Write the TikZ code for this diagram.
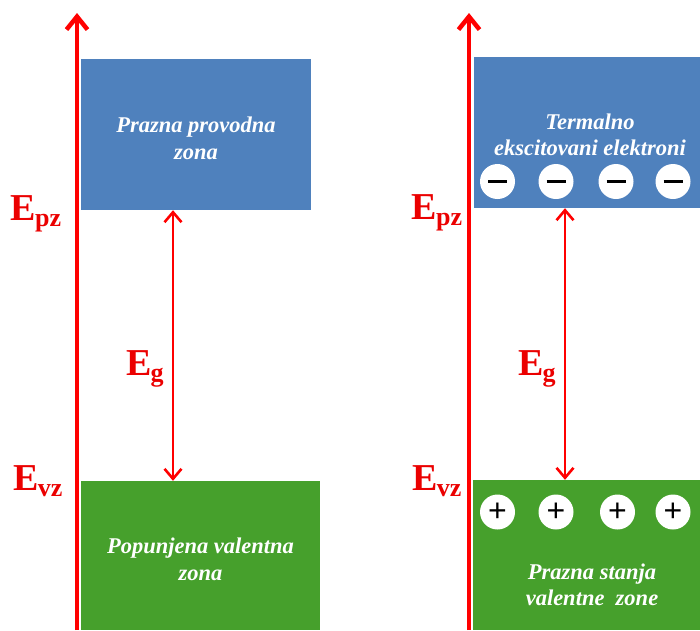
\documentclass[tikz,border=0pt]{standalone}
\usepackage{fontspec}
\setmainfont{Liberation Serif}
\newfontfamily\signfont{Liberation Sans}
\definecolor{b_blue}{HTML}{4F81BD}
\definecolor{b_green}{HTML}{46A02C}
\definecolor{b_red}{HTML}{FF0000}
\usetikzlibrary{positioning,arrows.meta}
\newcommand{\lvl}[2]{E\kern-1pt\raisebox{-6pt}{\fontsize{26}{26}\selectfont #2}}

\begin{document}
\begin{tikzpicture}[
        x=1pt, y=-1pt,
        band/.style={inner sep=0pt},
        cband/.style={band, fill=b_blue},
        vband/.style={band, fill=b_green},
        bandtext/.style={inner sep=0pt, text=white, align=center,
            font=\fontsize{22.5}{26.5}\selectfont\bfseries\itshape},
        axis/.style={line width=4.5pt, b_red,
            -{Straight Barb[length=13pt, width=21pt, line width=4.5pt]}},
        gap/.style={line width=2.6pt, b_red,
            {Straight Barb[length=10pt, width=17pt, line width=2.6pt]}-{Straight Barb[length=10pt, width=17pt, line width=2.6pt]}},
        level/.style={text=b_red!92!black, inner sep=0pt,
            font=\fontsize{38}{38}\selectfont\bfseries},
        carrier/.style={circle, fill=white, inner sep=0pt, minimum size=35pt,
            font=\fontsize{32}{32}\selectfont\signfont}
    ]
    \useasboundingbox (0,0) rectangle (700,630);

    % left: insulator at T = 0
    \node[cband, minimum width=230pt, minimum height=151pt] (cbL) at (196,134.5) {};
    \node[bandtext] (ctL) at ([yshift=-4pt]cbL.center) {Prazna provodna\\zona};
    \node[vband, minimum width=239pt, minimum height=149pt] (vbL) at (200.5,555.5) {};
    \node[bandtext] (vtL) at ([yshift=-4pt]vbL.center) {Popunjena valentna\\zona};
    \coordinate (axL0) at (77,630);
    \coordinate (axL1) at (77,13);
    \draw[axis] (axL0) -- (axL1);
    \draw[gap] ([xshift=-23pt]cbL.south) -- ([xshift=-23pt]cbL.south |- vbL.north);
    \node[level] (epzL) at (36,214) {\lvl{E}{pz}};
    \node[level] (egL) at (145,369) {\lvl{E}{g}};
    \node[level] (evzL) at (38,481) {\lvl{E}{vz}};

    % right: thermally excited
    \node[cband, minimum width=226pt, minimum height=151pt] (cbR) at (587,132.5) {};
    \node[bandtext] (ctR) at (590,135) {Termalno\\ekscitovani elektroni};
    \node[vband, minimum width=227pt, minimum height=150pt] (vbR) at (586.5,555) {};
    \node[bandtext] (vtR) at (592,585) {Prazna stanja\\valentne\ \ zone};
    \coordinate (axR0) at (469,630);
    \coordinate (axR1) at (469,13);
    \draw[axis] (axR0) -- (axR1);
    \draw[gap] ([xshift=-22pt]cbR.south) -- ([xshift=-22pt]cbR.south |- vbR.north);
    \node[level] (epzR) at (437,213) {\lvl{E}{pz}};
    \node[level] (egR) at (537,369) {\lvl{E}{g}};
    \node[level] (evzR) at (437,481) {\lvl{E}{vz}};

    \foreach \x [count=\i] in {497.5,556,616,673}
        \node[carrier] (eR\i) at (\x,181.5) {\rule{19pt}{3pt}};
    \foreach \x [count=\i] in {497.5,556,617.5,673}
        \node[carrier] (hR\i) at (\x,512) {+};
\end{tikzpicture}
\end{document}
